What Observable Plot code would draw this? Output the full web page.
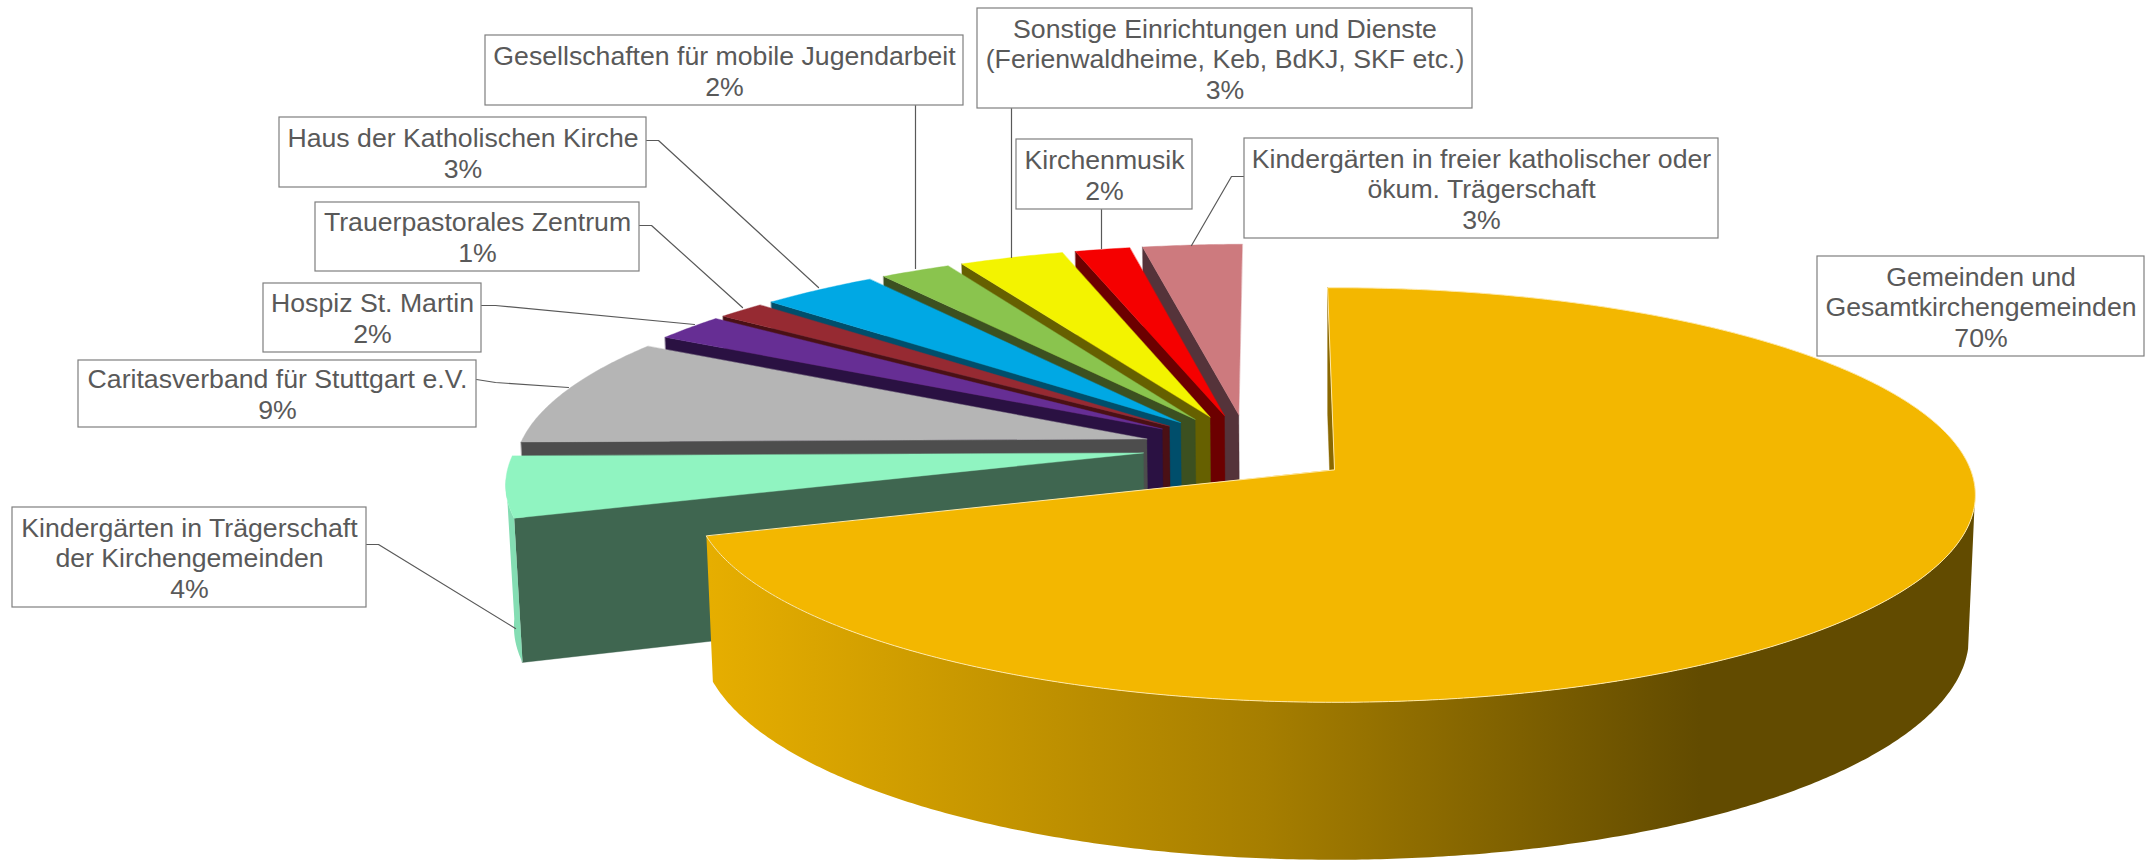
<!DOCTYPE html>
<html lang="de">
<head>
<meta charset="utf-8">
<style>html,body{margin:0;padding:0;background:#fff}svg{display:block}</style>
<script src="https://cdn.jsdelivr.net/npm/d3@7"></script>
<script src="https://cdn.jsdelivr.net/npm/@observablehq/plot@0.6"></script>
</head>
<body>
<script>
// ---- data -------------------------------------------------------------
const categories = [
  "Gemeinden und\nGesamtkirchengemeinden",
  "Kindergärten in Trägerschaft\nder Kirchengemeinden",
  "Caritasverband für Stuttgart e.V.",
  "Hospiz St. Martin",
  "Trauerpastorales Zentrum",
  "Haus der Katholischen Kirche",
  "Gesellschaften für mobile Jugendarbeit",
  "Sonstige Einrichtungen und Dienste\n(Ferienwaldheime, Keb, BdKJ, SKF etc.)",
  "Kirchenmusik",
  "Kindergärten in freier katholischer oder\nökum. Trägerschaft"
];
const shares = [70.25, 4.85, 8.6, 2.1, 1.4, 3.4, 2.05, 3.05, 1.6, 2.9];   // slice size
const percentLabels = ["70%", "4%", "9%", "2%", "1%", "3%", "2%", "3%", "2%", "3%"];

// ---- styles -----------------------------------------------------------
const topColors  = ["#F3B700","#90F4C1","#B5B5B5","#662E94","#962A32","#00A8E4","#8AC44E","#F3F300","#F50000","#CD7A7E"];
const wallColors = ["#8A6800","#3F6650","#4D4D4D","#2A1142","#4A1015","#004E6B","#3C5020","#666000","#6C0000","#55333A"];
const rimColors  = ["url(#goldWall)","#84DDB3"];

// ---- layout of the call-outs [x1,y1,x2,y2] + leader -------------------
const boxes = [
  [1817,256,2144,356],[12,507,366,607],[78,360,476,427],[263,283,481,352],[315,202,639,271],
  [279,117,646,187],[485,35,963,105],[977,8,1472,108],[1016,139,1192,209],[1244,138,1718,238]
];
const leaders = [
  null,
  [[366,544],[378,544],[515,628]],
  [[476,379],[495,382],[568,387]],
  [[481,305],[495,305],[694,324]],
  [[639,225],[651,225],[742,307]],
  [[646,140],[658,140],[818,287]],
  [[915,105],[915,268]],
  [[1011,108],[1011,257]],
  [[1101,209],[1101,248]],
  [[1244,176],[1231,176],[1191,245]]
];

// ---- 3-D pie projection ------------------------------------------------
const R = 636, ratio = 0.321, k = 0.123, m = 0.01, H = 142;
const anchor = [1334, 469], centre = [-88, 70], explode = 106.6;
function project(px, pz, h) {
  const s = 1 / (1 + k * pz / R + m * h);
  return {x: anchor[0] + px * s, y: anchor[1] - ratio * pz * s + H * h * s};
}
const arcs = d3.pie().sort(null).value(d => d).startAngle(-0.7 * Math.PI / 180)
  .endAngle((360 - 0.7) * Math.PI / 180)(shares);

const slices = arcs.map((a, i) => {
  const mid = (a.startAngle + a.endAngle) / 2;
  // the big slice's apex is the projection's origin; the others fan out from a common centre
  const ax = i === 0 ? 0 : centre[0] + explode * Math.sin(mid);
  const az = i === 0 ? 0 : centre[1] + explode * Math.cos(mid);
  const rim = (t, h) => project(ax + R * Math.sin(t), az + R * Math.cos(t), h);
  const apex = h => project(ax, az, h);
  return {i, a, rim, apex};
});
function sweep(from, to, h, rim) {
  const n = Math.max(2, Math.ceil(Math.abs(to - from) / (Math.PI / 360)));
  return d3.range(n + 1).map(j => rim(from + (to - from) * j / n, h));
}
const face = (pts, fill, extra = {}) =>
  Plot.line(pts, {x: "x", y: "y", fill, stroke: fill, strokeWidth: 0.4, curve: "linear-closed", ...extra});

const marks = [
  () => {
    const defs = d3.create("svg:defs");
    const g = defs.append("linearGradient").attr("id", "goldWall")
      .attr("gradientUnits", "userSpaceOnUse").attr("x1", 709).attr("x2", 1700).attr("y1", 0).attr("y2", 0);
    g.append("stop").attr("offset", 0).attr("stop-color", "#E6AE00");
    g.append("stop").attr("offset", 0.56).attr("stop-color", "#A67E00");
    g.append("stop").attr("offset", 1).attr("stop-color", "#624B00");
    return defs.node();
  }
];

const silhouetteRight = Math.acos(-k) + 0.05, silhouetteLeft = 2 * Math.PI - Math.acos(-k);

// paint from the back slice round to the front one, the big slice last
for (const i of [9, 8, 7, 6, 5, 4, 3, 2, 1, 0]) {
  const {a, rim, apex} = slices[i];
  // cut wall along the start edge
  marks.push(face([rim(a.startAngle, 0), apex(0), apex(1), rim(a.startAngle, 1)], wallColors[i]));
  // outer wall, only where it faces the viewer
  if (i < 2) {
    const from = i === 0 ? silhouetteRight : a.startAngle;
    const to = i === 0 ? a.endAngle : silhouetteLeft;
    marks.push(face([...sweep(from, to, 0, rim), ...sweep(to, from, 1, rim)], rimColors[i], {strokeWidth: 0}));
  }
  // top face
  const top = [apex(0), ...sweep(a.startAngle, a.endAngle, 0, rim)];
  marks.push(face(top, topColors[i], i === 0
    ? {stroke: "#FFE9A8", strokeWidth: 1}
    : {}));
}

// call-outs
leaders.forEach(l => {
  if (l) marks.push(Plot.line(l, {x: d => d[0], y: d => d[1], stroke: "#595959", strokeWidth: 1.2}));
});
const labels = categories.map((c, i) => ({
  text: c + "\n" + percentLabels[i],
  x1: boxes[i][0], y1: boxes[i][1], x2: boxes[i][2], y2: boxes[i][3]
}));
marks.push(Plot.rect(labels, {x1: "x1", x2: "x2", y1: "y1", y2: "y2", fill: "#fff", stroke: "#7f7f7f", strokeWidth: 1.2}));
marks.push(Plot.text(labels, {
  x: d => (d.x1 + d.x2) / 2, y: d => (d.y1 + d.y2) / 2, text: "text",
  fill: "#595959", fontSize: 26.67, lineHeight: 1.15, fontFamily: "Liberation Sans"
}));

document.body.append(Plot.plot({
  width: 2146, height: 860, margin: 0,
  x: {domain: [0, 2146], range: [0, 2146], axis: null},
  y: {domain: [0, 860], range: [0, 860], axis: null},
  style: {background: "#fff"},
  marks
}));
</script>
</body>
</html>
